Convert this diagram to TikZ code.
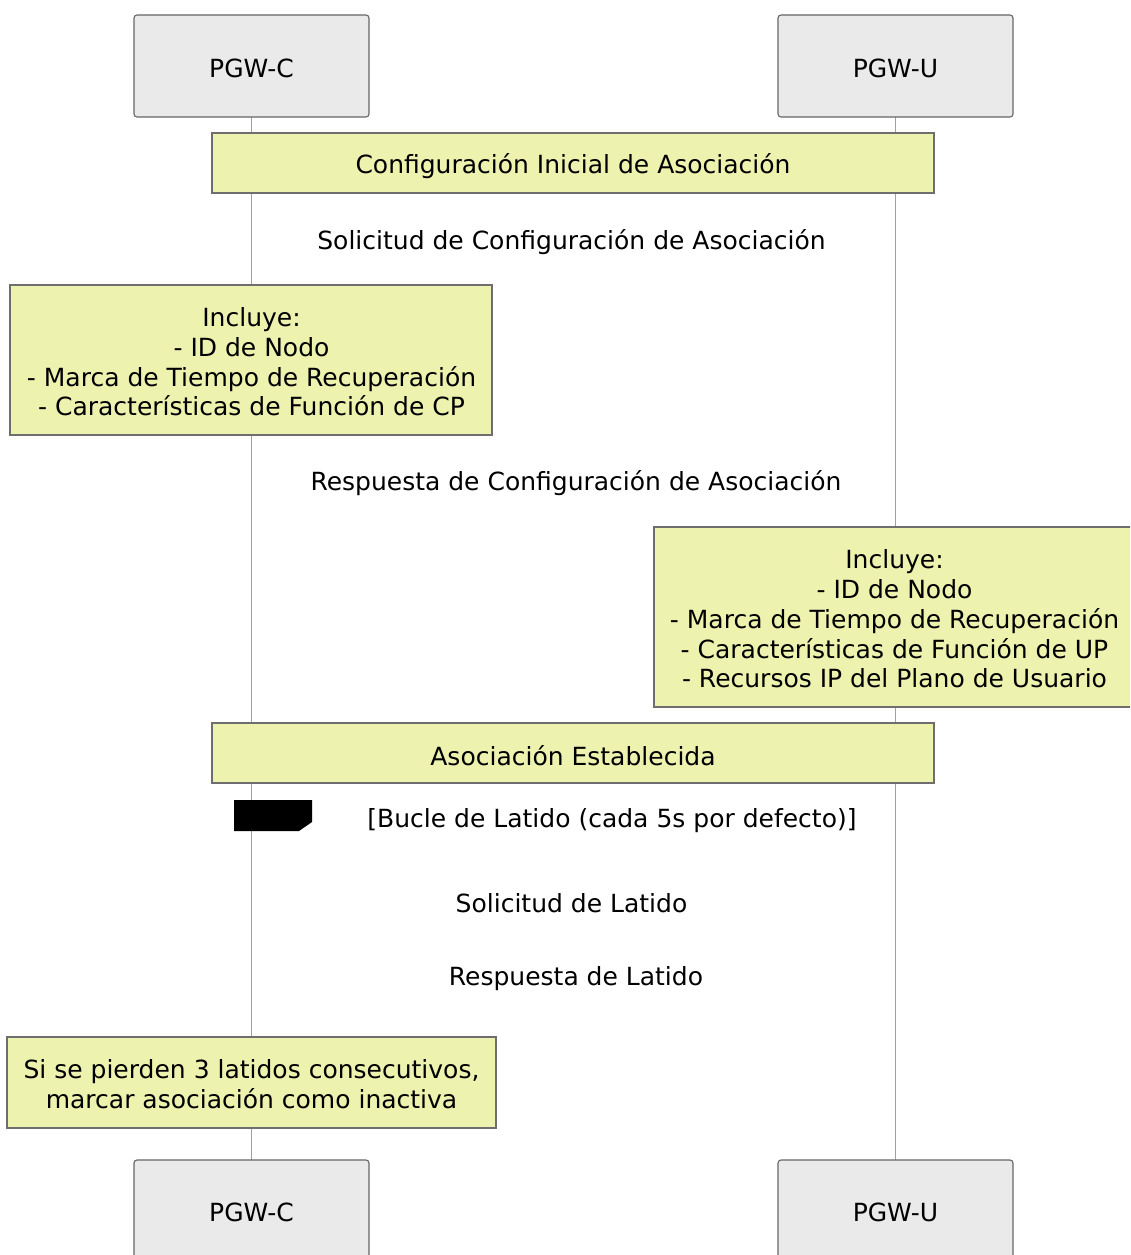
\documentclass[tikz,border=0pt]{standalone}
\usepackage{fontspec}
\setmainfont{DejaVu Sans}
\definecolor{notefill}{HTML}{EDF2AF}
\definecolor{notedraw}{HTML}{6E6E6E}
\definecolor{actfill}{HTML}{EAEAEA}
\definecolor{actdraw}{HTML}{666666}
\definecolor{lifecol}{HTML}{A0A0A0}
\tikzset{
  actor/.style={draw=actdraw, fill=actfill, line width=1.1pt, rounded corners=3pt},
  notebox/.style={draw=notedraw, fill=notefill, line width=1.1pt},
  lifeline/.style={draw=lifecol, line width=0.8pt},
  txt/.style={inner sep=0pt, align=center, font=\fontsize{25}{29.7}\selectfont},
}
\begin{document}
\begin{tikzpicture}[x=1pt,y=-1pt]
\useasboundingbox (0,0) rectangle (1130,1255);
\clip (0,0) rectangle (1130,1255);
\fill[white] (0,0) rectangle (1130,1255);
% lifelines
\coordinate (ct) at (251.5,117);
\coordinate (cb) at (251.5,1160);
\coordinate (ut) at (895.5,117);
\coordinate (ub) at (895.5,1160);
\draw[lifeline] (ct) -- (cb);
\draw[lifeline] (ut) -- (ub);
% actors top
\draw[actor] (134,15) rectangle (369,117);
\node[txt] (actC) at (251.5,68) {PGW-C};
\draw[actor] (778,15) rectangle (1013,117);
\node[txt] (actU) at (895.5,68) {PGW-U};
% actors bottom
\draw[actor] (134,1160) rectangle (369,1264);
\node[txt] (actCb) at (251.5,1212) {PGW-C};
\draw[actor] (778,1160) rectangle (1013,1264);
\node[txt] (actUb) at (895.5,1212) {PGW-U};
% note 1
\draw[notebox] (212,133) rectangle (934,193);
\node[txt] (n1) at (573,166.5) {Configuración Inicial de Asociación};
% message 1
\node[txt] (m1) at (571.5,242.5) {Solicitud de Configuración de Asociación};
% note 2
\draw[notebox] (10,285) rectangle (492,435);
\node[txt] (n2) at (251.5,362) {Incluye:\\- ID de Nodo\\- Marca de Tiempo de Recuperación\\- Características de Función de CP};
% message 2
\node[txt] (m2) at (576,483.5) {Respuesta de Configuración de Asociación};
% note 3
\draw[notebox] (654,527) rectangle (1136,707);
\node[txt] (n3) at (894.5,619) {Incluye:\\- ID de Nodo\\- Marca de Tiempo de Recuperación\\- Características de Función de UP\\- Recursos IP del Plano de Usuario};
% note 4
\draw[notebox] (212,723) rectangle (934,783);
\node[txt] (n4) at (573,756) {Asociación Establecida};
% loop label
\fill[black] (234,800) -- (312,800) -- (312,822) -- (299,831) -- (234,831) -- cycle;
\node[txt] (loop) at (612,820.5) {[Bucle de Latido (cada 5s por defecto)]};
% heartbeat messages
\node[txt] (m3) at (571.5,903) {Solicitud de Latido};
\node[txt] (m4) at (576,978.5) {Respuesta de Latido};
% note 5
\draw[notebox] (7,1037) rectangle (496,1128);
\node[txt] (n5) at (251.5,1084.5) {Si se pierden 3 latidos consecutivos,\\marcar asociación como inactiva};
\end{tikzpicture}
\end{document}
